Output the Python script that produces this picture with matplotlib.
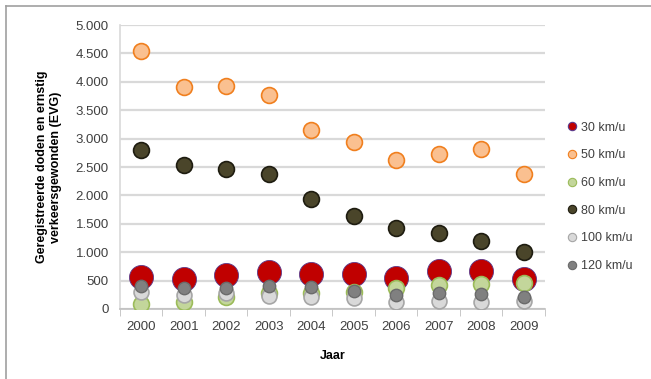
import matplotlib.pyplot as plt
from matplotlib.lines import Line2D

years = ["2000", "2001", "2002", "2003", "2004", "2005", "2006", "2007", "2008", "2009"]
labels = ["30 km/u", "50 km/u", "60 km/u", "80 km/u", "100 km/u", "120 km/u"]

v30 = [569, 523, 599, 657, 611, 616, 540, 669, 674, 528]
v50 = [4548, 3914, 3931, 3768, 3151, 2946, 2623, 2729, 2817, 2382]
v60 = [88, 129, 206, 276, 276, 305, 364, 423, 440, 452]
v80 = [2805, 2540, 2459, 2377, 1937, 1637, 1426, 1333, 1197, 998]
v100 = [305, 246, 276, 229, 217, 188, 129, 146, 129, 146]
v120 = [405, 364, 364, 405, 393, 317, 246, 287, 258, 217]

series = [v30, v50, v60, v80, v100, v120]
fills = ["#C00000", "#FAC090", "#C3D69B", "#4A452A", "#D9D9D9", "#808080"]
edges = ["#5A3A8C", "#F07F1E", "#9BBB59", "#1E1C10", "#A6A6A6", "#6B6B6B"]
edge_w = [0.6, 1.2, 1.2, 1.2, 1.2, 1.0]
sizes = [300, 130, 130, 130, 115, 80]

plt.rcParams['font.family'] = ['Liberation Sans', 'DejaVu Sans']

fig = plt.figure(figsize=(6.51, 3.79), dpi=100)
ax = fig.add_axes([0.1843, 0.1847, 0.6527, 0.7493])

x = list(range(len(years)))
for vals, fc, ec, lw, s in zip(series, fills, edges, edge_w, sizes):
    ax.scatter(x, vals, s=s, c=fc, edgecolors=ec, linewidths=lw, zorder=3)

ax.set_xlim(-0.5, 9.5)
ax.set_ylim(0, 5000)
ax.set_yticks(range(0, 5001, 500))
ax.set_yticklabels(["{:,}".format(v).replace(",", ".") for v in range(0, 5001, 500)])
ax.set_xticks(x)
ax.set_xticklabels(years)
ax.set_xticks([i - 0.5 for i in range(11)], minor=True)
ax.tick_params(axis='x', which='major', length=0, pad=9, labelsize=9.5, labelcolor="#404040")
ax.tick_params(axis='x', which='minor', length=5, color="#BFBFBF", direction='out')
ax.tick_params(axis='y', length=0, pad=8, labelsize=9.5, labelcolor="#404040")

ax.grid(axis='y', color="#D9D9D9", lw=1.6, zorder=0)
ax.set_axisbelow(True)
for sp in ["top", "right"]:
    ax.spines[sp].set_visible(False)
ax.spines["left"].set_color("#D9D9D9")
ax.spines["bottom"].set_color("#BFBFBF")
ax.spines["left"].set_linewidth(1.2)
ax.spines["bottom"].set_linewidth(1.2)

ax.set_xlabel("Jaar", fontsize=9, fontweight='bold', labelpad=12)
ax.set_ylabel("Geregistreerde doden en ernstig\nverkeersgewonden (EVG)",
              fontsize=9, fontweight='bold', labelpad=10)

handles = [Line2D([], [], ls='none', marker='o', markersize=6, markerfacecolor=fc,
                  markeredgecolor=ec, markeredgewidth=0.8) for fc, ec in zip(fills, edges)]
fig.legend(handles, labels, loc='upper left', bbox_to_anchor=(0.862, 0.695),
           frameon=False, fontsize=9, labelspacing=1.25, handlelength=0.8,
           handletextpad=0.3, borderpad=0, labelcolor="#404040")

# outer frame like the original screenshot
fig.add_artist(Line2D([6 / 651, 6 / 651], [0, 1 - 6 / 379], transform=fig.transFigure,
                      color="#A0A0A0", lw=1.2))
fig.add_artist(Line2D([6 / 651, 1], [1 - 6 / 379, 1 - 6 / 379], transform=fig.transFigure,
                      color="#A0A0A0", lw=1.2))

fig.savefig("out.png", dpi=100)
